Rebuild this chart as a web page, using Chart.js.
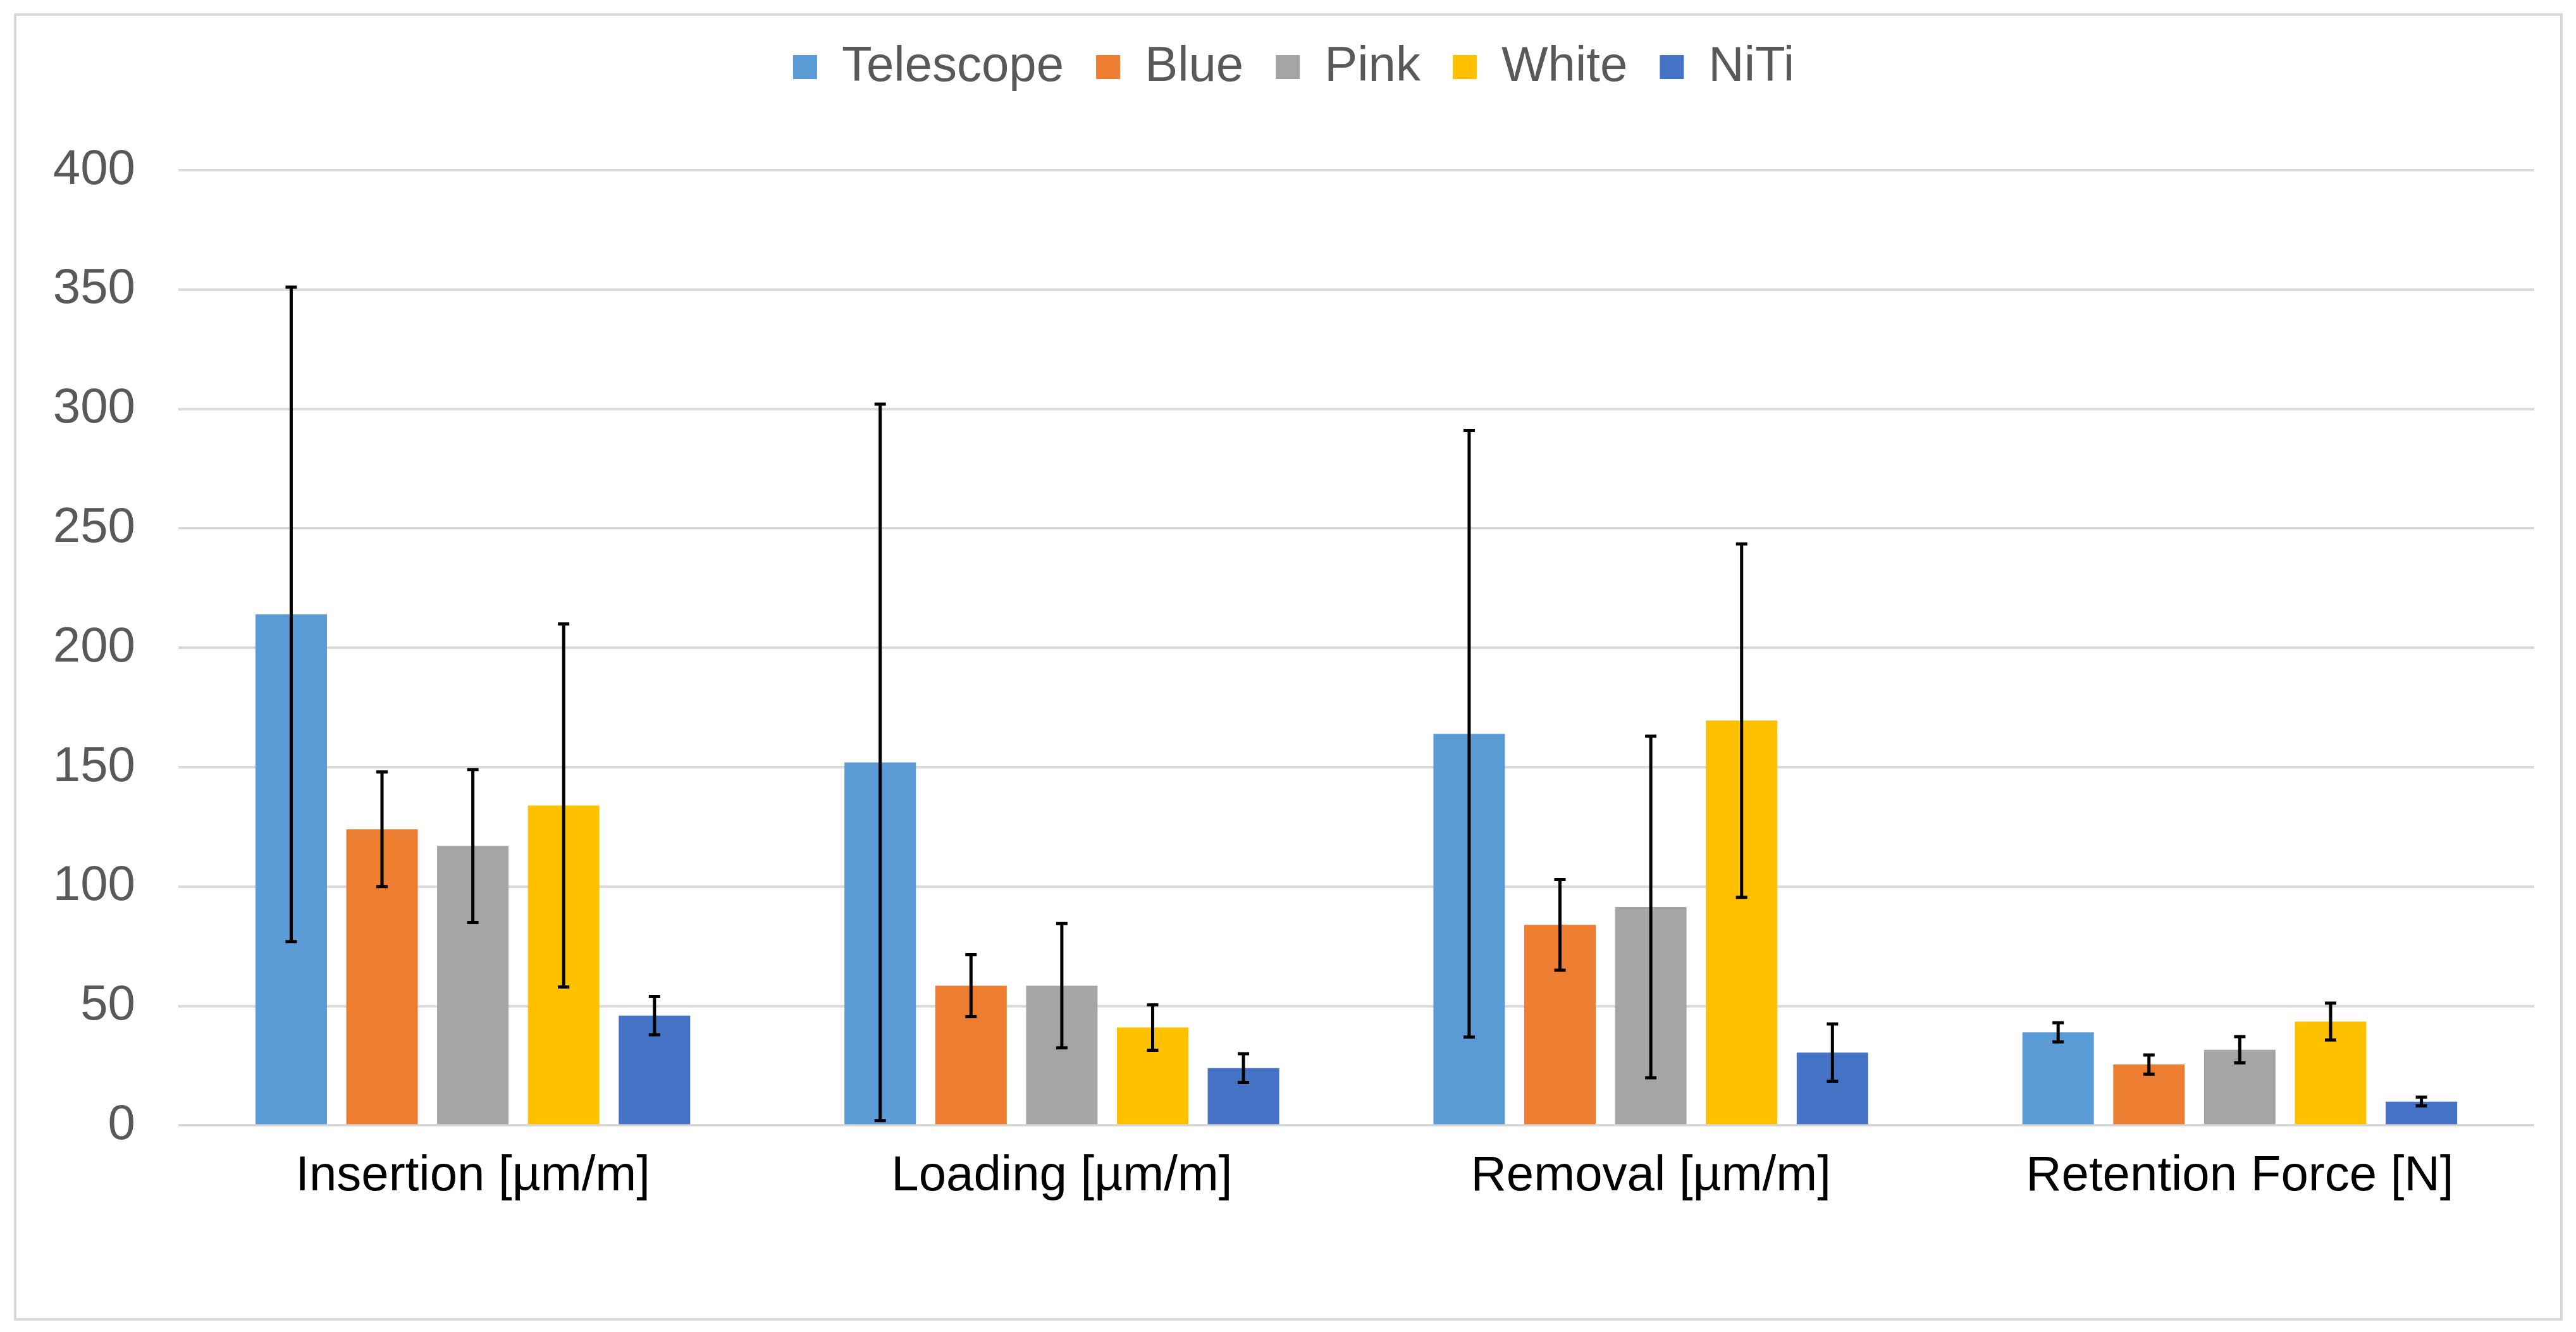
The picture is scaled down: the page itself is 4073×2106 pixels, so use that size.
<!DOCTYPE html>
<html>
<head>
<meta charset="utf-8">
<script src="https://cdn.jsdelivr.net/npm/chart.js@4"></script>
<style>
  html, body { margin: 0; padding: 0; background: #fff; }
  #wrap { width: 4073px; height: 2106px; position: relative; }
</style>
</head>
<body>
<div id="wrap"><canvas id="chart"></canvas></div>
<script>
// categorias e séries
const CATEGORIES = ['Insertion [µm/m]', 'Loading [µm/m]', 'Removal [µm/m]', 'Retention Force [N]'];
const SERIES     = ['Telescope', 'Blue', 'Pink', 'White', 'NiTi'];

const telescope    = [214, 152, 164, 39];
const telescopeErr = [137, 150, 127, 4];
const blue         = [124, 58.5, 84, 25.5];
const blueErr      = [24, 13, 19, 4];
const pink         = [117, 58.5, 91.5, 31.7];
const pinkErr      = [32, 26, 71.5, 5.5];
const white        = [134, 41, 169.5, 43.5];
const whiteErr     = [76, 9.5, 74, 7.7];
const niti         = [46, 24, 30.5, 10];
const nitiErr      = [8, 6, 12, 1.8];

const Y_MIN = 0, Y_MAX = 400, Y_STEP = 50;

const COLORS = ['#5B9BD5', '#ED7D31', '#A5A5A5', '#FFC000', '#4472C4'];
const VALUES = [telescope, blue, pink, white, niti];
const ERRORS = [telescopeErr, blueErr, pinkErr, whiteErr, nitiErr];

const FONT = "'Liberation Sans', Arial, sans-serif";

Chart.defaults.font.family = FONT;
Chart.defaults.font.size   = 78;

/** barras de erro desenhadas a partir da escala y */
const errorBars = {
  id: 'errorBars',
  afterDatasetsDraw(chart) {
    const { ctx, scales: { y } } = chart;
    ctx.save();
    ctx.strokeStyle = '#000';
    ctx.lineWidth = 5;
    chart.data.datasets.forEach((ds, i) => {
      const meta = chart.getDatasetMeta(i);
      meta.data.forEach((bar, j) => {
        const v = ds.data[j], e = ERRORS[i][j];
        const top = y.getPixelForValue(v + e);
        const bot = y.getPixelForValue(v - e);
        ctx.beginPath();
        ctx.moveTo(bar.x, top);     ctx.lineTo(bar.x, bot);
        ctx.moveTo(bar.x - 9, top); ctx.lineTo(bar.x + 9, top);
        ctx.moveTo(bar.x - 9, bot); ctx.lineTo(bar.x + 9, bot);
        ctx.stroke();
      });
    });
    ctx.restore();
  },
};

/** moldura cinza em volta do gráfico */
const frame = {
  id: 'frame',
  beforeDraw(chart) {
    const { ctx } = chart;
    ctx.save();
    ctx.strokeStyle = '#D9D9D9';
    ctx.lineWidth = 4;
    ctx.strokeRect(24, 23, 4026, 2063);
    ctx.restore();
  },
};

/** espaço extra entre a legenda e a área do gráfico */
const legendSpacer = {
  id: 'legendSpacer',
  beforeInit(chart) {
    const fit = chart.legend.fit;
    chart.legend.fit = function () {
      fit.bind(chart.legend)();
      this.height += 114;
    };
  },
};

new Chart(document.getElementById('chart'), {
  type: 'bar',
  data: {
    labels: CATEGORIES,
    datasets: SERIES.map((name, i) => ({
      label: name,
      data: VALUES[i],
      backgroundColor: COLORS[i],
      borderWidth: 0,
      categoryPercentage: 0.771,
      barPercentage: 0.787,
    })),
  },
  options: {
    responsive: true, maintainAspectRatio: false,
    devicePixelRatio: 1,
    animation: false,
    layout: { padding: { top: 16, left: 84, right: 66, bottom: 173 } },
    plugins: {
      legend: {
        position: 'top',
        labels: { color: '#595959', boxWidth: 38, boxHeight: 38, padding: 51, font: { size: 78 } },
      },
      tooltip: { enabled: false },
    },
    scales: {
      x: {
        grid: { display: false },
        border: { display: false },
        ticks: { color: '#000', padding: 26, font: { size: 78 } },
      },
      y: {
        min: Y_MIN, max: Y_MAX,
        grid: { color: '#D9D9D9', lineWidth: 4, drawTicks: false },
        border: { display: false },
        ticks: { stepSize: Y_STEP, color: '#595959', padding: 68, font: { size: 78 } },
        afterFit: scale => { scale.width = 198; },
      },
    },
  },
  plugins: [legendSpacer, errorBars, frame],
});
</script>
</body>
</html>
